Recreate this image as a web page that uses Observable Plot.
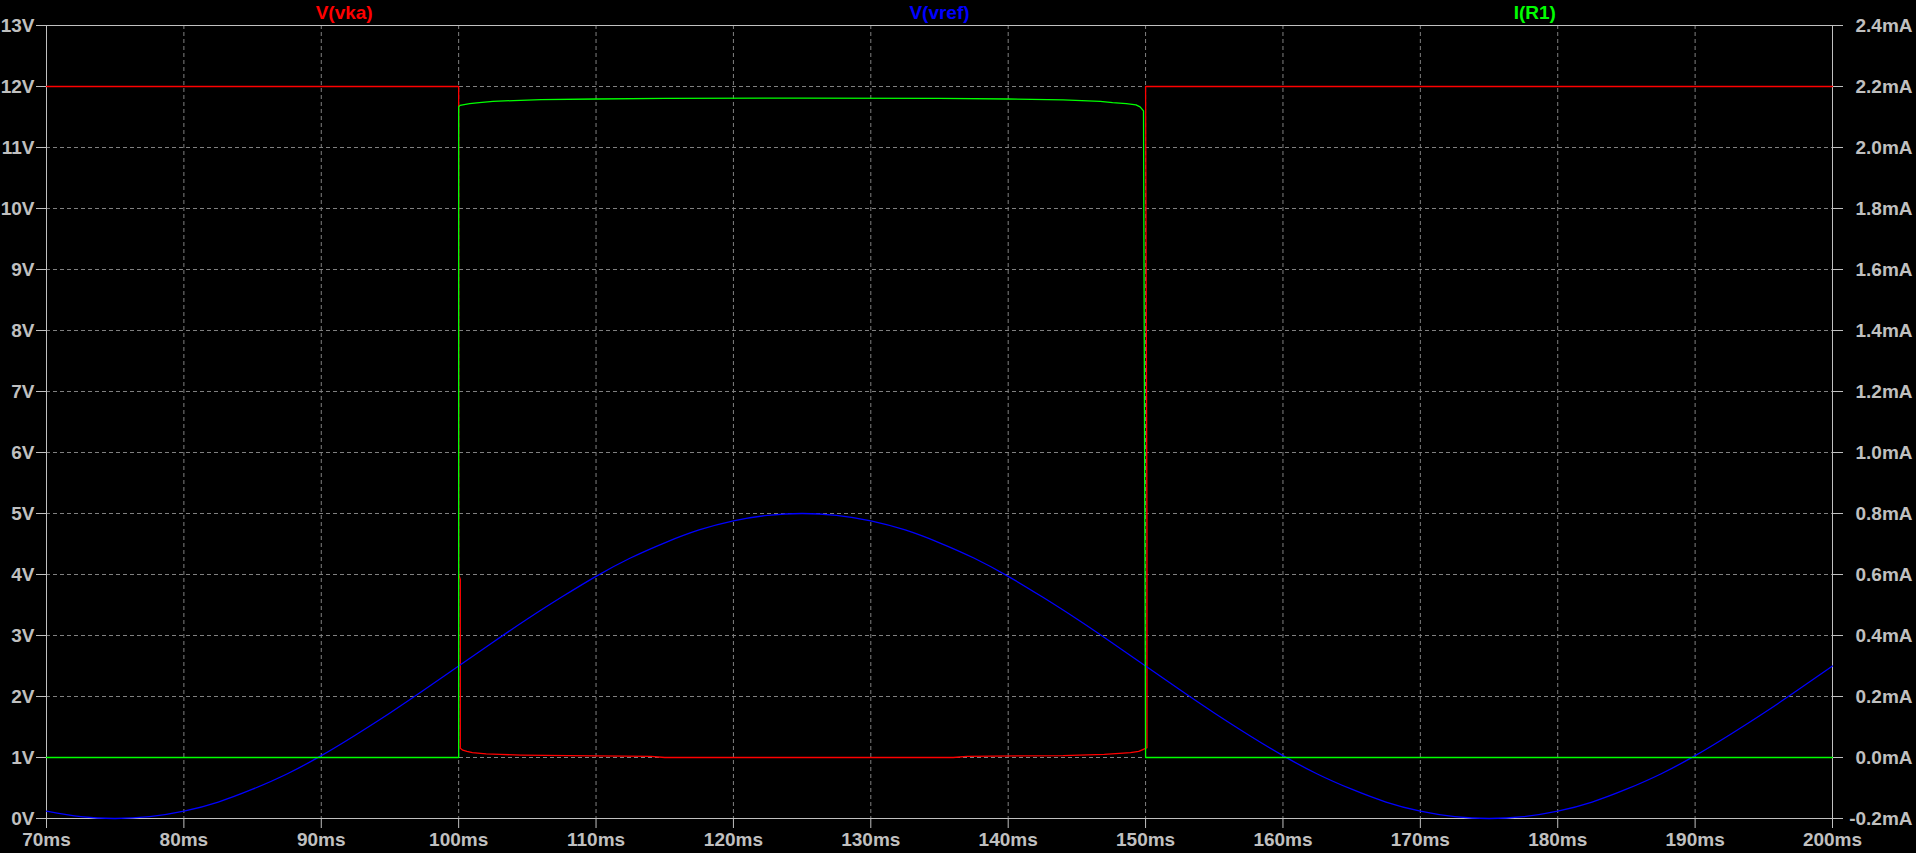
<!DOCTYPE html>
<html>
<head>
<meta charset="utf-8">
<script src="https://cdn.jsdelivr.net/npm/d3@7"></script>
<script src="https://cdn.jsdelivr.net/npm/@observablehq/plot@0.6"></script>
<style>
  html, body { margin: 0; padding: 0; background: #000; overflow: hidden; }
</style>
</head>
<body>
<div id="chart"></div>
<script>
// tick values
const timeTicks = [70, 80, 90, 100, 110, 120, 130, 140, 150, 160, 170, 180, 190, 200];
const voltTicks = [0, 1, 2, 3, 4, 5, 6, 7, 8, 9, 10, 11, 12, 13];
const currentTicks = [-0.2, 0, 0.2, 0.4, 0.6, 0.8, 1.0, 1.2, 1.4, 1.6, 1.8, 2.0, 2.2, 2.4];

// V(vka), volts
const vkaTime = [70, 100, 100, 100.12, 100.12, 100.3, 100.6, 101, 102, 103, 104.5, 108, 114, 115, 136, 137, 144, 147, 148.1, 148.9, 149.5, 149.8, 150.1, 150.1, 150, 200];
const vkaVolts = [12, 12, 4.0, 3.92, 1.15, 1.12, 1.10, 1.08, 1.06, 1.05, 1.04, 1.03, 1.02, 1.0, 1.0, 1.02, 1.03, 1.05, 1.066, 1.08, 1.10, 1.13, 1.16, 4.7, 12, 12];

// V(vref), volts
const vrefTime = [70, 72.5, 75, 77.5, 80, 82.5, 85, 87.5, 90, 92.5, 95, 97.5, 100, 102.5, 105, 107.5, 110, 112.5, 115, 117.5, 120, 122.5, 125,
  127.5, 130, 132.5, 135, 137.5, 140, 142.5, 145, 147.5, 150, 152.5, 155, 157.5, 160, 162.5, 165, 167.5, 170, 172.5, 175,
  177.5, 180, 182.5, 185, 187.5, 190, 192.5, 195, 197.5, 200];
const vrefVolts = [0.12, 0.03, 0, 0.03, 0.12, 0.27, 0.48, 0.73, 1.03, 1.37, 1.73, 2.11, 2.5, 2.89, 3.27, 3.63, 3.97, 4.27, 4.52, 4.73, 4.88, 4.97, 5.0,
  4.97, 4.88, 4.73, 4.52, 4.27, 3.97, 3.63, 3.27, 2.89, 2.5, 2.11, 1.73, 1.37, 1.03, 0.73, 0.48, 0.27, 0.12, 0.03, 0,
  0.03, 0.12, 0.27, 0.48, 0.73, 1.03, 1.37, 1.73, 2.11, 2.5];

// I(R1), milliamps
const irTime = [70, 100, 100, 100.1, 100.3, 100.8, 101.5, 102.5, 104, 106, 110, 115, 125, 135, 140, 144, 146.7, 147.6, 148.6, 149.3, 149.6, 149.85, 150, 200];
const irMilliamps = [0, 0, 2.133, 2.138, 2.140, 2.144, 2.147, 2.151, 2.154, 2.157, 2.159, 2.161, 2.162, 2.161, 2.159, 2.156, 2.151, 2.147, 2.144, 2.140, 2.133, 2.12, 0, 0];

// right axis: 0.0mA sits on 1V, 0.2mA per volt division
const mAtoV = ma => ma / 0.2 + 1;
const vToMA = v => ((v - 1) * 0.2).toFixed(1) + "mA";

const vka = vkaTime.map((t, i) => ({t, v: vkaVolts[i]}));
const vref = vrefTime.map((t, i) => ({t, v: vrefVolts[i]}));
const ir = irTime.map((t, i) => ({t, v: mAtoV(irMilliamps[i])}));

const W = 1916, H = 853;
const mL = 46, mR = 84, mT = 25, mB = 35;
const third = (W - mL - mR) / 3;
const axisColor = "#c0c0c0";
const gridColor = "#808080";

const chart = Plot.plot({
  width: W,
  height: H,
  marginLeft: mL,
  marginRight: mR,
  marginTop: mT,
  marginBottom: mB,
  style: {
    background: "#000",
    color: axisColor,
    fontFamily: "'Liberation Sans', Arial, sans-serif",
    fontSize: "19px",
    fontWeight: "bold"
  },
  x: {domain: [70, 200], label: null},
  y: {domain: [0, 13], label: null},
  marks: [
    Plot.gridX(timeTicks.slice(1, -1), {stroke: gridColor, strokeOpacity: 1, strokeDasharray: "4,3"}),
    Plot.gridY(voltTicks.slice(1, -1), {stroke: gridColor, strokeOpacity: 1, strokeDasharray: "4,3"}),
    Plot.frame({stroke: axisColor}),
    Plot.axisX(timeTicks, {tickFormat: d => d + "ms", tickSize: 10, tickPadding: 4, stroke: axisColor, label: null}),
    Plot.axisY(voltTicks, {anchor: "left", tickFormat: d => d + "V", tickSize: 10, tickPadding: 2, stroke: axisColor, label: null}),
    Plot.axisY(currentTicks.map(mAtoV), {anchor: "right", tickFormat: vToMA, tickSize: 10, tickPadding: 70, textAnchor: "end", stroke: axisColor, label: null}),
    Plot.line(vka, {x: "t", y: "v", stroke: "#ff0000", strokeWidth: 1.3}),
    Plot.line(vref, {x: "t", y: "v", stroke: "#0000ff", strokeWidth: 1.3, curve: "natural"}),
    Plot.line(ir, {x: "t", y: "v", stroke: "#00ff00", strokeWidth: 1.3}),
    Plot.text(["V(vka)"], {frameAnchor: "top", dx: -third, dy: -13, fill: "#ff0000", lineAnchor: "middle"}),
    Plot.text(["V(vref)"], {frameAnchor: "top", dy: -13, fill: "#0000ff", lineAnchor: "middle"}),
    Plot.text(["I(R1)"], {frameAnchor: "top", dx: third, dy: -13, fill: "#00ff00", lineAnchor: "middle"})
  ]
});

document.getElementById("chart").append(chart);
</script>
</body>
</html>
